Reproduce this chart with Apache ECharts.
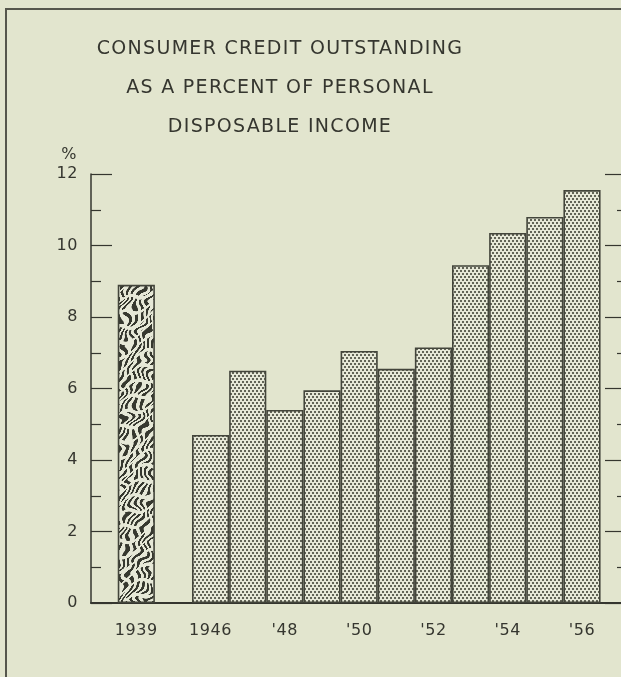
<!DOCTYPE html>
<html>
<head>
<meta charset="utf-8">
<script src="https://cdn.jsdelivr.net/npm/echarts@6/dist/echarts.min.js"></script>
<style>
  html, body { margin: 0; padding: 0; background: #e2e5ce; }
  #chart { width: 621px; height: 677px; }
</style>
</head>
<body>
<div id="chart"></div>
<script>
// Consumer credit outstanding as a percent of personal disposable income
const titleLines = [
  'CONSUMER CREDIT OUTSTANDING',
  'AS A PERCENT OF PERSONAL',
  'DISPOSABLE INCOME'
];
const years = [1939, 1946, 1947, 1948, 1949, 1950, 1951, 1952, 1953, 1954, 1955, 1956];
const percentOfIncome = [8.9, 4.7, 6.5, 5.4, 5.95, 7.05, 6.55, 7.15, 9.45, 10.35, 10.8, 11.55];
const xTickYears = [1939, 1946, 1948, 1950, 1952, 1954, 1956];
const xTickLabels = ['1939', '1946', "'48", "'50", "'52", "'54", "'56"];
const yTickValues = [0, 2, 4, 6, 8, 10, 12];
const yUnit = '%';

// Slot on the year axis: the pre-war year sits alone, one empty slot before 1946
const slotOf = (year) => (year < 1946 ? 0 : year - 1944);

const ink = '#35362f';
const paper = '#e2e5ce';

// Hand-lettered look: a little tracking on all drawn text
const nativeFillText = CanvasRenderingContext2D.prototype.fillText;
CanvasRenderingContext2D.prototype.fillText = function (text, x, y, maxWidth) {
  const m = /(\d+(?:\.\d+)?)px/.exec(this.font);
  const size = m ? parseFloat(m[1]) : 12;
  if ('letterSpacing' in this) this.letterSpacing = (size >= 18 ? 1.3 : 0.6) + 'px';
  return maxWidth === undefined
    ? nativeFillText.call(this, text, x, y)
    : nativeFillText.call(this, text, x, y, maxWidth);
};

// Fine stipple screen used for the post-war bars
function stippleTile() {
  const c = document.createElement('canvas');
  c.width = 8; c.height = 6;
  const g = c.getContext('2d');
  g.fillStyle = '#e6e8d7';
  g.fillRect(0, 0, 8, 6);
  g.fillStyle = '#626457';
  [[0, 0], [4, 0], [2, 3], [6, 3]].forEach(([x, y]) => g.fillRect(x, y, 2, 2));
  return c;
}

// Vermiculated screen used for the 1939 bar: warped, broken stripes
function wormTile() {
  const W = 200, H = 640;
  const c = document.createElement('canvas');
  c.width = W; c.height = H;
  const g = c.getContext('2d');
  const img = g.createImageData(W, H);
  const light = [230, 232, 215], dark = [54, 56, 47];
  for (let y = 0; y < H; y++) {
    for (let x = 0; x < W; x++) {
      const warp = 2.8 * Math.sin(0.19 * y + 1.4 * Math.sin(0.15 * x))
                 + 2.0 * Math.sin(0.12 * x + 0.26 * y + 1.0 * Math.sin(0.21 * y))
                 + 1.4 * Math.sin(0.33 * y - 0.1 * x);
      const v = Math.sin(1.05 * x + 0.3 * y + warp);
      const brk = Math.sin(0.5 * y + 0.24 * x + 2.3 * Math.sin(0.17 * x + 0.06 * y));
      let t = Math.min(1, Math.max(0, (v - 0.05) * 2.5 + 0.5));
      if (brk < -0.7) t *= Math.max(0, 1 - (-0.7 - brk) * 8);
      const k = (y * W + x) * 4;
      for (let ch = 0; ch < 3; ch++) img.data[k + ch] = light[ch] + (dark[ch] - light[ch]) * t;
      img.data[k + 3] = 255;
    }
  }
  g.putImageData(img, 0, 0);
  return c;
}

const stipple = { image: stippleTile(), repeat: 'repeat' };
const worms = { image: wormTile(), repeat: 'repeat' };

const barData = years.map((yr, i) => ({
  value: [slotOf(yr), percentOfIncome[i]],
  itemStyle: { color: yr < 1946 ? worms : stipple }
}));

const tickSlots = xTickYears.map(slotOf);
const labelFont = { fontFamily: 'DejaVu Sans', fontSize: 16, color: ink };

const chart = echarts.init(document.getElementById('chart'), null, { renderer: 'canvas' });

chart.setOption({
  backgroundColor: paper,
  animation: false,
  title: {
    text: titleLines.join('\n'),
    left: 275,
    top: 25,
    textAlign: 'center',
    textStyle: {
      fontFamily: 'DejaVu Sans',
      fontSize: 19,
      fontWeight: 'normal',
      color: ink,
      lineHeight: 39
    }
  },
  graphic: [{
    type: 'rect',
    z: -1,
    shape: { x: 6, y: 9, width: 720, height: 720 },
    style: { fill: 'none', stroke: '#55564c', lineWidth: 2 }
  }],
  grid: { left: 91, right: 0, top: 174, bottom: 74 },
  xAxis: {
    type: 'value',
    min: -1.22,
    max: 13.05,
    splitLine: { show: false },
    axisLine: { onZero: false, lineStyle: { color: ink, width: 2 } },
    axisTick: { show: false },
    axisLabel: {
      customValues: tickSlots,
      margin: 20,
      ...labelFont,
      formatter: (v) => {
        const i = tickSlots.indexOf(v);
        return i >= 0 ? xTickLabels[i] : '';
      }
    }
  },
  yAxis: [{
    type: 'value',
    position: 'left',
    min: yTickValues[0],
    max: yTickValues[yTickValues.length - 1],
    interval: yTickValues[1] - yTickValues[0],
    name: yUnit,
    nameLocation: 'end',
    nameGap: 11,
    nameTextStyle: { ...labelFont, align: 'right', padding: [0, 14, 0, 0] },
    splitLine: { show: false },
    axisLine: { show: true, onZero: false, lineStyle: { color: ink, width: 1.5 } },
    axisTick: { show: true, inside: true, length: 21, lineStyle: { color: ink, width: 1.2 } },
    minorTick: { show: true, splitNumber: 2, length: 10, lineStyle: { color: ink, width: 1.2 } },
    axisLabel: { margin: 13, ...labelFont }
  }, {
    type: 'value',
    position: 'right',
    min: yTickValues[0],
    max: yTickValues[yTickValues.length - 1],
    interval: yTickValues[1] - yTickValues[0],
    splitLine: { show: false },
    axisLine: { show: false, onZero: false },
    axisTick: { show: true, inside: true, length: 16, lineStyle: { color: ink, width: 1.2 } },
    minorTick: { show: true, splitNumber: 2, length: 4, lineStyle: { color: ink, width: 1.2 } },
    axisLabel: { show: false }
  }],
  series: [{
    type: 'bar',
    yAxisIndex: 0,
    barWidth: 37.15,
    data: barData,
    itemStyle: { borderColor: '#43453b', borderWidth: 1.6 },
    emphasis: { disabled: true }
  }]
});
</script>
</body>
</html>
